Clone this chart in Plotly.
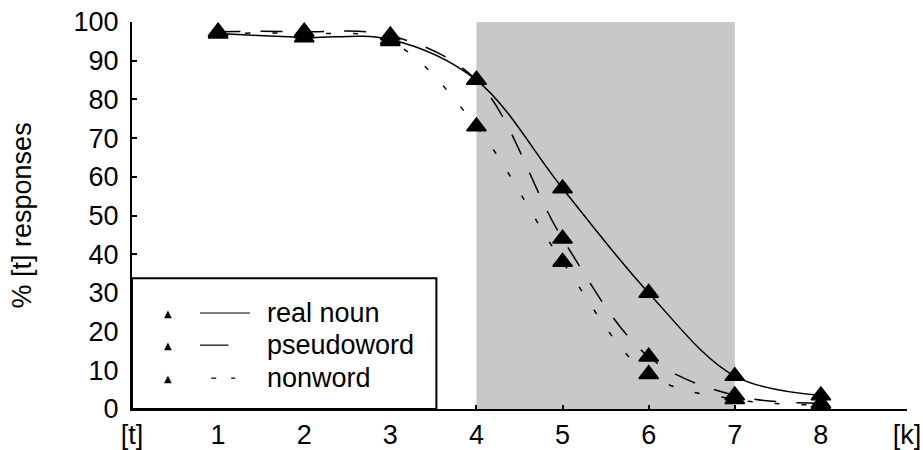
import plotly.graph_objects as go

# Continuum steps from [t] to [k]
steps = [1, 2, 3, 4, 5, 6, 7, 8]
tick_positions = [0, 1, 2, 3, 4, 5, 6, 7, 8, 9]
tick_labels = ["[t]", "1", "2", "3", "4", "5", "6", "7", "8", "[k]"]

# Percentage of [t] responses per condition
real_noun = [97, 96, 95.5, 85, 57, 30, 8.5, 3.5]
pseudoword = [97.5, 97.5, 96.5, 85, 44, 13.5, 3.5, 1.5]
nonword = [97, 97, 95, 73, 38, 9, 2.5, 1]

series_names = ["real noun", "pseudoword", "nonword"]
series_values = [real_noun, pseudoword, nonword]
series_dash = ["solid", "22px,20px", "5px,22px"]

FONT = "Liberation Sans, Arial, sans-serif"
FS = 27

fig = go.Figure()

# Ambiguous region of the continuum
fig.add_shape(type="rect", xref="x", yref="y", x0=4, x1=7, y0=0, y1=100,
              fillcolor="#c8c8c8", line=dict(width=0), layer="below")

for name, vals, dash in zip(series_names, series_values, series_dash):
    fig.add_trace(go.Scatter(
        x=steps, y=vals, name=name, mode="lines",
        line=dict(color="black", width=1.5, dash=dash, shape="spline", smoothing=1.0),
        showlegend=False, hoverinfo="skip"))

for name, vals in zip(series_names, series_values):
    fig.add_trace(go.Scatter(
        x=steps, y=vals, name=name, mode="markers",
        marker=dict(symbol="triangle-up", size=17, color="black",
                    line=dict(color="black", width=1.5)),
        showlegend=False))

# Legend box drawn by hand: marker, line sample, label
fig.add_shape(type="rect", xref="x", yref="y", x0=0, x1=3.535, y0=0, y1=33.8,
              fillcolor="white", line=dict(color="black", width=2), layer="above")

legend_rows = [24.8, 16.5, 8.0]
legend_segments = [(0.79, 1.37, "solid"), (0.79, 1.12, "solid"), (0.92, 1.20, "5px,15px")]
for name, row, (lx0, lx1, ldash) in zip(series_names, legend_rows, legend_segments):
    fig.add_annotation(x=0.42, y=row, xref="x", yref="y", text="▲", showarrow=False,
                       font=dict(size=10, color="black", family="DejaVu Sans"),
                       xanchor="center", yanchor="middle")
    fig.add_shape(type="line", xref="x", yref="y", x0=lx0, x1=lx1, y0=row, y1=row,
                  line=dict(color="black", width=1.2, dash=ldash), layer="above")
    fig.add_annotation(x=1.547, y=row, xref="x", yref="y", text=name, showarrow=False,
                       font=dict(size=FS, color="black", family=FONT),
                       xanchor="left", yanchor="middle")

# Vertical axis title
fig.add_annotation(x=-0.142, y=0.50, xref="paper", yref="paper",
                   text="% [t] responses", textangle=-90, showarrow=False,
                   font=dict(size=FS, color="black", family=FONT),
                   xanchor="center", yanchor="middle")

fig.update_layout(
    width=923, height=450,
    margin=dict(l=132, r=16, t=22, b=41, autoexpand=False),
    paper_bgcolor="white", plot_bgcolor="white",
    font=dict(family=FONT, size=FS, color="black"),
    xaxis=dict(range=[0, 9], tickmode="array", tickvals=tick_positions,
               ticktext=tick_labels, ticks="inside", ticklen=4, tickwidth=1.5,
               tickcolor="black", showline=True, linecolor="black", linewidth=2,
               showgrid=False, zeroline=False, ticklabelstandoff=1, automargin=False,
               tickfont=dict(size=FS, family=FONT)),
    yaxis=dict(range=[0, 100], tickmode="array", tickvals=list(range(0, 101, 10)),
               ticks="inside", ticklen=5, tickwidth=1.5, tickcolor="black",
               showline=True, linecolor="black", linewidth=2, showgrid=False,
               zeroline=False, ticklabelstandoff=6, automargin=False,
               tickfont=dict(size=FS, family=FONT)),
)

fig.write_html("out.html")
